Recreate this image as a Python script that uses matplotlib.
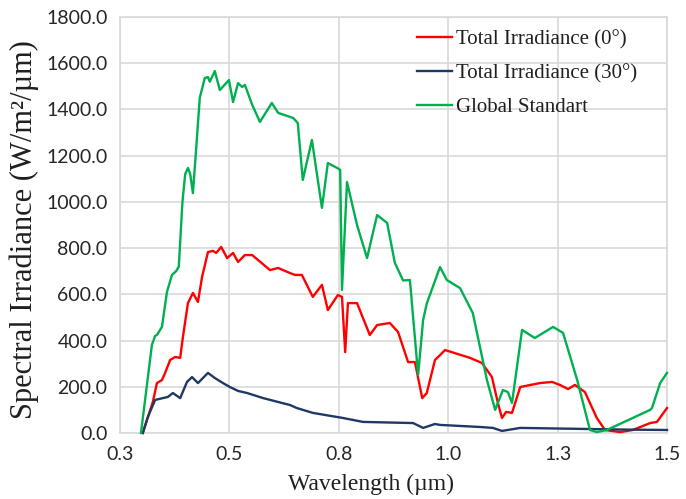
import matplotlib
matplotlib.use("Agg")
import matplotlib.pyplot as plt

# ---------------- data ----------------
wl_red = [0.350, 0.372, 0.381, 0.392, 0.399, 0.410, 0.421, 0.432, 0.438, 0.449,
          0.460, 0.471, 0.480, 0.493, 0.504, 0.511, 0.522, 0.535, 0.548, 0.559,
          0.574, 0.590, 0.629, 0.647, 0.673, 0.684, 0.699, 0.723, 0.743, 0.756,
          0.778, 0.787, 0.794, 0.800, 0.820, 0.848, 0.864, 0.892, 0.910, 0.932,
          0.947, 0.963, 0.973, 0.991, 1.002, 1.013, 1.068, 1.094, 1.116, 1.129,
          1.138, 1.147, 1.160, 1.178, 1.221, 1.248, 1.265, 1.283, 1.298, 1.320,
          1.346, 1.364, 1.397, 1.425, 1.463, 1.478, 1.500]
irr_0deg = [0, 134, 216, 229, 260, 316, 329, 325, 415, 562,
            606, 567, 675, 783, 788, 779, 805, 757, 779, 740,
            770, 770, 705, 714, 692, 684, 684, 589, 641, 532,
            597, 589, 350, 562, 562, 424, 467, 476, 437, 307,
            307, 151, 173, 316, 337, 359, 325, 303, 242, 130,
            65, 91, 87, 199, 216, 221, 208, 190, 208, 177,
            65, 13, 4, 13, 43, 48, 108]

wl_blue = [0.350, 0.361, 0.377, 0.394, 0.405, 0.416, 0.432, 0.447, 0.458, 0.471,
           0.493, 0.508, 0.526, 0.541, 0.559, 0.579, 0.614, 0.673, 0.688, 0.723,
           0.789, 0.833, 0.943, 0.965, 0.991, 1.002, 1.090, 1.118, 1.138, 1.178,
           1.400, 1.500]
irr_30deg = [0, 69, 143, 151, 156, 173, 151, 221, 242, 216,
             260, 238, 216, 199, 182, 173, 151, 121, 108, 87,
             65, 48, 43, 22, 39, 35, 26, 22, 9, 22,
             15, 13]

wl_green = [0.346, 0.370, 0.377, 0.381, 0.392, 0.403, 0.414, 0.423, 0.429, 0.437,
            0.443, 0.449, 0.454, 0.460, 0.466, 0.475, 0.486, 0.493, 0.497, 0.508,
            0.519, 0.539, 0.548, 0.559, 0.568, 0.574, 0.590, 0.607, 0.633, 0.647,
            0.680, 0.690, 0.701, 0.721, 0.743, 0.756, 0.778, 0.783, 0.787, 0.798,
            0.820, 0.842, 0.864, 0.886, 0.903, 0.921, 0.936, 0.954, 0.965, 0.973,
            1.002, 1.017, 1.046, 1.074, 1.105, 1.123, 1.140, 1.151, 1.160, 1.182,
            1.210, 1.250, 1.272, 1.303, 1.331, 1.346, 1.368, 1.463, 1.467, 1.485,
            1.500]
irr_global = [0, 381, 420, 424, 459, 610, 684, 700, 720, 1000,
              1120, 1147, 1120, 1038, 1200, 1450, 1536, 1540, 1520, 1566,
              1484, 1527, 1432, 1514, 1497, 1506, 1420, 1346, 1428, 1385,
              1363, 1341, 1095, 1268, 974, 1168, 1145, 1138, 619, 1086,
              900, 757, 943, 909, 736, 660, 662, 251, 489, 560,
              718, 662, 627, 519, 229, 100, 186, 177, 130, 446,
              411, 459, 433, 229, 13, 4, 13, 100, 108, 216,
              260]

series_labels = ["Total Irradiance (0°)", "Total Irradiance (30°)", "Global Standart"]
x_ticks = [0.30, 0.54, 0.78, 1.02, 1.26, 1.50]
y_ticks = [0, 200, 400, 600, 800, 1000, 1200, 1400, 1600, 1800]

# ---------------- figure ----------------
fig = plt.figure(figsize=(6.86, 4.99), dpi=100)
ax = fig.add_axes([120 / 686, 66 / 499, 547 / 686, 416 / 499])

lw = 1.7
ax.plot(wl_red, irr_0deg, color="#FF0000", lw=lw, label=series_labels[0], clip_on=False, zorder=3)
ax.plot(wl_blue, irr_30deg, color="#203864", lw=lw, label=series_labels[1], clip_on=False, zorder=3)
ax.plot(wl_green, irr_global, color="#00B050", lw=lw, label=series_labels[2], clip_on=False, zorder=3)

ax.set_xlim(0.3, 1.5)
ax.set_ylim(0, 1800)
ax.set_xticks(x_ticks)
ax.set_xticklabels([f"{v:.1f}" for v in x_ticks])
ax.set_yticks(y_ticks)
ax.set_yticklabels([f"{v:.1f}" for v in y_ticks])

grid_c = "#D9D9D9"
ax.grid(True, color=grid_c, lw=1.2, zorder=0)
ax.set_axisbelow(True)
for s in ax.spines.values():
    s.set_color(grid_c)
    s.set_linewidth(1.2)

tick_c = "#262626"
ax.tick_params(axis="both", length=0, labelcolor=tick_c, labelsize=14)
ax.tick_params(axis="y", pad=9)
ax.tick_params(axis="x", pad=9.5)
for lab in ax.get_xticklabels() + ax.get_yticklabels():
    lab.set_family("Lato")

ax.set_ylabel("Spectral Irradiance (W/m²/µm)", family="Liberation Serif",
              fontsize=22, color="#1F1F1F", labelpad=5, y=0.488)
ax.set_xlabel("Wavelength (µm)", family="Liberation Serif",
              fontsize=17, color="#1F1F1F", labelpad=8, x=(371 - 120) / 547)

leg = ax.legend(loc="upper left", bbox_to_anchor=((417 - 120) / 547, (433 - 30) / 416),
                frameon=False, prop={"family": "Liberation Serif", "size": 15},
                handlelength=1.7, handletextpad=0.15, labelspacing=0.68,
                borderpad=0, borderaxespad=0)
for t in leg.get_texts():
    t.set_color("#1F1F1F")

fig.savefig("out.png", dpi=100)
